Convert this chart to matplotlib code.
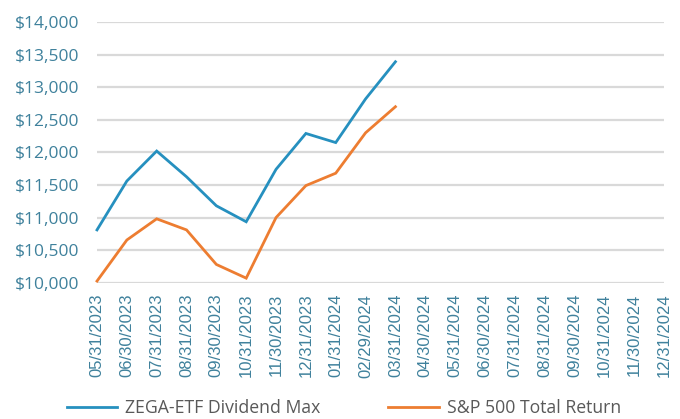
import matplotlib
matplotlib.use("Agg")
import matplotlib.pyplot as plt
from matplotlib.ticker import FuncFormatter
from matplotlib.lines import Line2D

dates = ["05/31/2023", "06/30/2023", "07/31/2023", "08/31/2023", "09/30/2023",
         "10/31/2023", "11/30/2023", "12/31/2023", "01/31/2024", "02/29/2024",
         "03/31/2024", "04/30/2024", "05/31/2024", "06/30/2024", "07/31/2024",
         "08/31/2024", "09/30/2024", "10/31/2024", "11/30/2024", "12/31/2024"]
zega = [10810, 11560, 12020, 11625, 11180, 10935, 11740, 12290, 12150, 12820, 13390]
sp500 = [10025, 10655, 10980, 10810, 10280, 10070, 11000, 11490, 11680, 12300, 12700]
yticks = [10000, 10500, 11000, 11500, 12000, 12500, 13000, 13500, 14000]

plt.rcParams['font.family'] = ['Open Sans', 'DejaVu Sans']
tick_color = "#3F819C"
blue = "#2690BF"
orange = "#ED7D31"

fig = plt.figure(figsize=(6.8, 4.19), dpi=100)
W, H = 680, 419
ax = fig.add_axes([97 / W, 1 - 282.7 / H, (664 - 97) / W, (282.7 - 22) / H])

x = list(range(len(dates)))
ax.plot(x[:len(zega)], zega, color=blue, lw=2.0, solid_joinstyle='miter', zorder=3, clip_on=False)
ax.plot(x[:len(sp500)], sp500, color=orange, lw=2.0, solid_joinstyle='miter', zorder=3, clip_on=False)

ax.set_xlim(0, len(dates) - 1)
ax.set_ylim(10000, 14000)
ax.set_yticks(yticks)
ax.yaxis.set_major_formatter(FuncFormatter(lambda v, p: f"${v:,.0f}"))
ax.set_xticks(x)
ax.set_xticklabels(dates, rotation=90, family=['Liberation Sans', 'DejaVu Sans'], fontsize=12)
ax.tick_params(axis='both', length=0, colors=tick_color)
ax.tick_params(axis='y', pad=13, labelsize=12.5)
ax.tick_params(axis='x', pad=8)
ax.grid(axis='y', color="#D9D9D9", lw=1.6)
ax.set_axisbelow(True)
for s in ax.spines.values():
    s.set_visible(False)

handles = [Line2D([], [], color=blue, lw=2), Line2D([], [], color=orange, lw=2)]
fig.legend(handles, ["ZEGA-ETF Dividend Max", "S&P 500 Total Return"],
           loc='center left', bbox_to_anchor=(67 / W, 1 - 408 / H), ncol=2, frameon=False,
           fontsize=12.7, labelcolor="#595959", handlelength=2.84, handletextpad=0.45,
           columnspacing=3.86, borderpad=0, borderaxespad=0)

fig.savefig("out.png", dpi=100)
